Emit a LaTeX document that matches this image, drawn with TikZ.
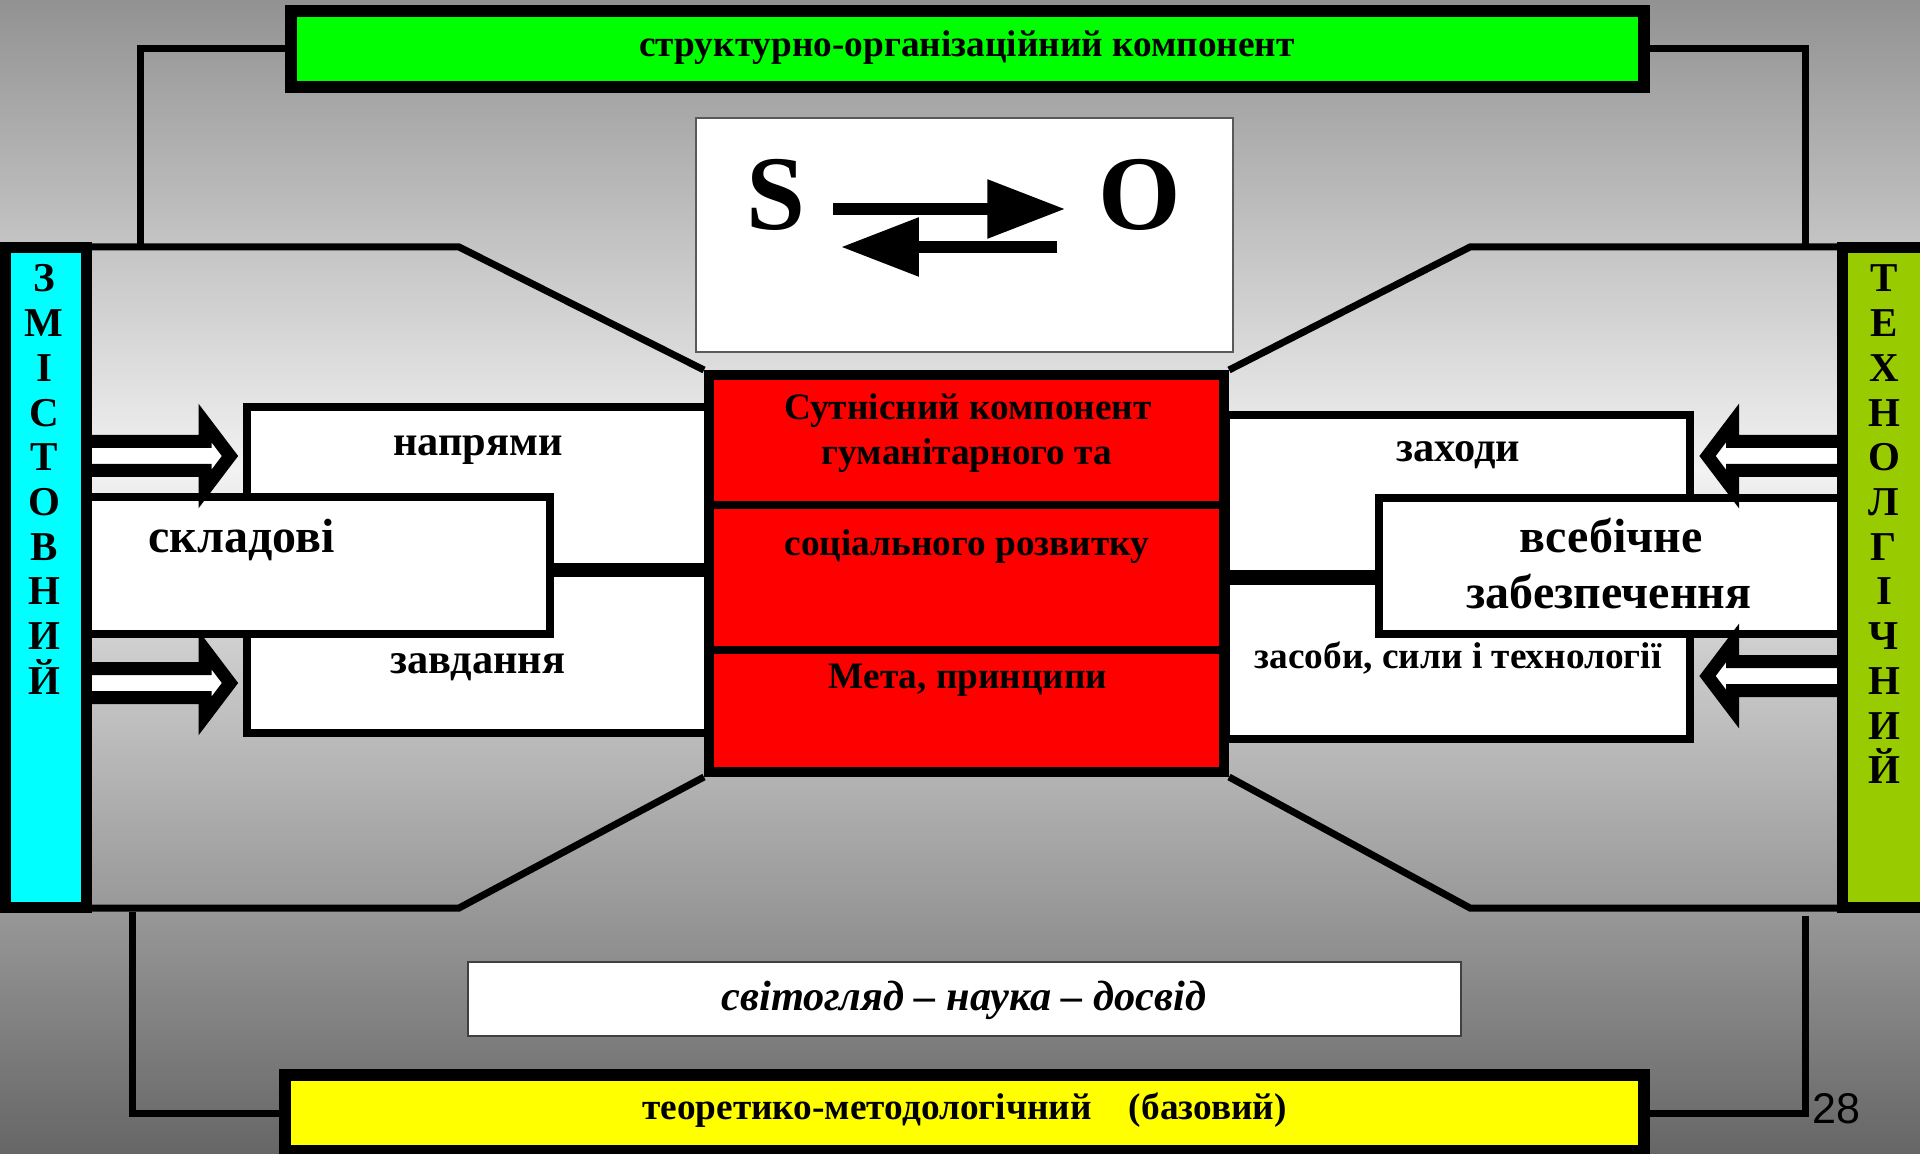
\documentclass[tikz,border=0pt]{standalone}
\usepackage{fontspec}
\setmainfont{Liberation Serif}
\setsansfont{Liberation Sans}
\usepackage{tikz}
\usetikzlibrary{calc}
\usetikzlibrary{arrows.meta}
\tikzset{>=latex}
\definecolor{bgtop}{RGB}{146,146,146}
\definecolor{bgmid}{RGB}{242,242,242}
\definecolor{bgbot}{RGB}{102,102,102}
\definecolor{techgreen}{RGB}{153,204,0}
\definecolor{sidecyan}{RGB}{0,255,255}
\definecolor{corered}{RGB}{255,0,0}
\definecolor{bandgreen}{RGB}{0,255,0}
\definecolor{bandyellow}{RGB}{255,255,0}
\tikzset{
  every node/.style={inner sep=0pt},
  sz/.style 2 args={minimum width=#1*0.5pt,minimum height=#2*0.5pt},
  panel/.style={draw,fill=white,line width=4pt},
  plainbox/.style={draw=black!65,fill=white,line width=1pt},
  sidebar/.style={draw,line width=5.5pt},
  band/.style={draw,line width=6pt},
  wire/.style={line width=3.5pt},
  fatwire/.style={line width=7pt},
  hollow/.style={draw,fill=white,line width=6.5pt},
  soarr/.style={line width=6pt,-{Triangle[length=39pt,width=28pt]}},
  ttl/.style={font=\bfseries\fontsize{18.65}{23}\selectfont,anchor=base},
  lab/.style={font=\bfseries\fontsize{21.2}{24}\selectfont,anchor=base},
  biglab/.style={font=\bfseries\fontsize{24}{28}\selectfont,anchor=base},
  vlet/.style={font=\bfseries\fontsize{20.5}{24}\selectfont,anchor=base}
}
\begin{document}
\begin{tikzpicture}[x=0.5pt,y=-0.5pt]
    \useasboundingbox (0,0) rectangle (1920,1154);
    \clip (0,0) rectangle (1920,1154);
    \shade[top color=bgtop,bottom color=bgmid] (0,0) rectangle (1920,470);
    \shade[top color=bgmid,bottom color=bgbot] (0,469) rectangle (1920,1154);

    \node[plainbox,sz={537}{234}] (so) at (964.5,235) {};
    \node[panel,sz={461}{163}] (napr) at (477.5,488.5) {};
    \node[panel,sz={461}{163}] (zavd) at (477.5,651.5) {};
    \node[panel,sz={464}{162}] (zakh) at (1458,496) {};
    \node[panel,sz={464}{161}] (zasob) at (1458,658.5) {};
    \node[panel,sz={462}{137}] (sklad) at (319,565.5) {};
    \node[panel,sz={462}{136}] (vseb) at (1610,566) {};

    \foreach \y in {456,683} {
      \draw[hollow] (70,\y-14.5) -- (205,\y-14.5) -- (205,\y-33) -- (230,\y) -- (205,\y+33) -- (205,\y+14.5) -- (70,\y+14.5) -- cycle;
    }
    \foreach \y in {456,676} {
      \draw[hollow] (1850,\y-14.5) -- (1732.5,\y-14.5) -- (1732.5,\y-33) -- (1707.5,\y) -- (1732.5,\y+33) -- (1732.5,\y+14.5) -- (1850,\y+14.5) -- cycle;
    }

    \node[sidebar,fill=sidecyan,sz={81}{660}] (zm) at (46,577.5) {};
    \node[sidebar,fill=techgreen,sz={83}{660}] (tx) at (1884,577.5) {};
    \node[sidebar,fill=corered,line width=5pt,sz={515}{397}] (core) at (966.5,573.5) {};
    \node[band,fill=bandgreen,sz={1353}{76}] (grn) at (967.5,49) {};
    \node[band,fill=bandyellow,sz={1359}{76}] (ylw) at (964.5,1113) {};
    \node[plainbox,draw=black!75,sz={993}{74}] (svit) at (964.5,999) {};

    \coordinate (ftl) at (459,247);
    \coordinate (ftr) at (1470,247);
    \coordinate (fbl) at (459,908);
    \coordinate (fbr) at (1470,908);
    \draw[wire] (zm.east |- ftl) -- (ftl) -- (core.north west);
    \draw[wire] (tx.west |- ftr) -- (ftr) -- (core.north east);
    \draw[wire] (zm.east |- fbl) -- (fbl) -- (core.south west);
    \draw[wire] (tx.west |- fbr) -- (fbr) -- (core.south east);

    \coordinate (ctl) at (140,247);
    \coordinate (ctr) at (1805,247);
    \coordinate (cbl) at (132,912);
    \coordinate (cbr) at (1805,916);
    \draw[wire] (grn.west) -| (ctl);
    \draw[wire] (grn.east) -| (ctr);
    \draw[wire] (ylw.west) -| (cbl);
    \draw[wire] (ylw.east) -| (cbr);

    \coordinate (lbar) at (0,570);
    \coordinate (rbar) at (0,577.5);
    \draw[fatwire] (sklad.east |- lbar) -- (core.west |- lbar);
    \draw[fatwire,line width=7.5pt] (core.east |- rbar) -- (vseb.west |- rbar);
    \foreach \y in {505,650} {
      \draw[line width=4pt] (core.west |- 0,\y) -- (core.east |- 0,\y);
    }

    \node[font=\bfseries\fontsize{53}{60}\selectfont,anchor=base] (tS) at (776,230) {S};
    \node[font=\bfseries\fontsize{53}{60}\selectfont,anchor=base] (tO) at (1140,230) {O};
    \draw[soarr] ($(tS.base east)+(27,-21)$) -- ($(tO.base west)+(-33,-21)$);
    \draw[soarr] ($(tO.base west)+(-41,17)$) -- ($(tS.base east)+(35,17)$);

    \node[ttl] (tgrn) at (967,57) {структурно-організаційний компонент};
    \node[ttl] (tylw) at (964.5,1119) {теоретико-методологічний\quad(базовий)};
    \node[font=\bfseries\itshape\fontsize{21.2}{25}\selectfont,anchor=base] (tsvit) at (964,1010) {світогляд – наука – досвід};
    \node[ttl] (tcore1) at (968,420) {Сутнісний компонент};
    \node[ttl] (tcore2) at (967,465) {гуманітарного та};
    \node[ttl] (tcore3) at (967,555) {соціального розвитку};
    \node[ttl] (tcore4) at (968,688) {Мета, принципи};
    \node[lab] (tnapr) at (478,456) {напрями};
    \node[lab] (tzavd) at (478,673) {завдання};
    \node[biglab,anchor=base west] (tsklad) at (148,552) {складові};
    \node[lab] (tzakh) at (1458,462) {заходи};
    \node[ttl] (tzasob) at (1458,668) {засоби, сили і технології};
    \node[biglab] (tvseb1) at (1611,552) {всебічне};
    \node[biglab] (tvseb2) at (1609,608) {забезпечення};

    \foreach \c [count=\i] in {З,М,І,С,Т,О,В,Н,И,Й} {
      \node[vlet] (zm\i) at (44,{292+(\i-1)*44.7}) {\c};
    }
    \foreach \c [count=\i] in {Т,Е,Х,Н,О,Л,Г,І,Ч,Н,И,Й} {
      \node[vlet] (tx\i) at (1884,{292+(\i-1)*44.7}) {\c};
    }
    \node[font=\sffamily\fontsize{21.5}{25}\selectfont,anchor=base] (tpage) at (1836,1123) {28};
\end{tikzpicture}
\end{document}
